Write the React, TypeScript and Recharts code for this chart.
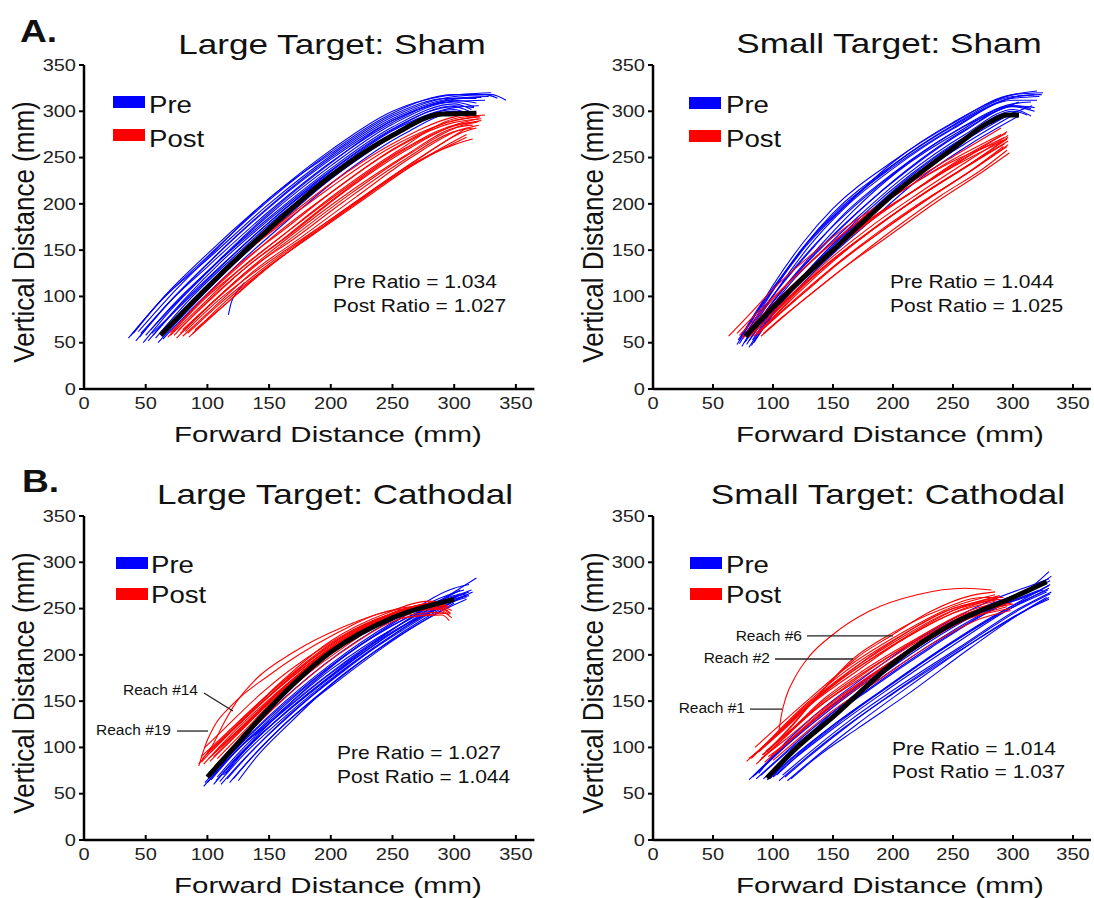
import React from 'react';
import { LineChart, Line, XAxis, YAxis, ReferenceLine } from 'recharts';

type Pt = [number, number];
type Traj = Pt[];

const FONT = '"Liberation Sans", Arial, Helvetica, sans-serif';

const xTicks = [0, 50, 100, 150, 200, 250, 300, 350];
const yTicks = [0, 50, 100, 150, 200, 250, 300, 350];
const panelTitles = ['Large Target: Sham', 'Small Target: Sham', 'Large Target: Cathodal', 'Small Target: Cathodal'];
const panelLetters = ['A.', '', 'B.', ''];
const preRatios = ['1.034', '1.044', '1.027', '1.014'];
const postRatios = ['1.027', '1.025', '1.044', '1.037'];
const legendNames = ['Pre', 'Post'];
const xAxisLabel = 'Forward Distance (mm)';
const yAxisLabel = 'Vertical Distance (mm)';

// ---------- Large Target: Sham ----------
const largeShamPre: Traj[] = [
  [[36, 55], [60, 92], [100, 143], [150, 204], [200, 256], [250, 298], [300, 318], [330, 318], [342, 312]],
  [[38, 58], [62, 95], [100, 140], [150, 200], [200, 252], [250, 294], [300, 316], [325, 318], [335, 314]],
  [[42, 52], [65, 88], [100, 135], [150, 196], [200, 248], [250, 290], [300, 313], [322, 315]],
  [[45, 56], [70, 95], [100, 132], [150, 192], [200, 245], [250, 288], [300, 312], [318, 309]],
  [[48, 50], [70, 85], [100, 126], [150, 188], [200, 241], [250, 286], [300, 310], [316, 305]],
  [[50, 58], [75, 95], [100, 127], [150, 185], [200, 238], [250, 283], [300, 308], [314, 302]],
  [[52, 52], [80, 95], [110, 136], [150, 183], [200, 236], [250, 281], [300, 305], [312, 300]],
  [[55, 60], [80, 92], [110, 131], [150, 180], [200, 233], [250, 279], [300, 304], [320, 306]],
  [[58, 55], [85, 96], [120, 141], [160, 189], [200, 230], [250, 276], [300, 302], [310, 298]],
  [[60, 50], [85, 86], [120, 133], [160, 181], [200, 227], [250, 273], [300, 300], [310, 296]],
  [[64, 54], [90, 90], [125, 135], [165, 182], [210, 232], [260, 276], [300, 298], [305, 296]],
  [[40, 60], [65, 100], [100, 146], [145, 200], [200, 258], [250, 300], [290, 316], [330, 320]],
  [[44, 62], [68, 98], [105, 148], [150, 206], [200, 254], [250, 296], [295, 314], [318, 314]],
  [[54, 64], [78, 98], [110, 140], [150, 190], [200, 244], [250, 290], [300, 311], [325, 312]],
  [[46, 60], [72, 98], [105, 142], [150, 197], [200, 250], [250, 292], [300, 314], [328, 316]],
  [[56, 58], [82, 96], [115, 138], [155, 186], [200, 235], [250, 280], [300, 306], [316, 304]],
  [[62, 60], [88, 95], [120, 137], [160, 185], [205, 232], [255, 276], [300, 300], [312, 299]],
  [[117, 80], [119, 92], [124, 105], [130, 115]],
];
const largeShamPost: Traj[] = [
  [[65, 60], [90, 95], [120, 135], [150, 168], [200, 218], [250, 262], [300, 290], [320, 295]],
  [[68, 56], [95, 95], [125, 132], [160, 172], [200, 212], [250, 258], [300, 288], [322, 292]],
  [[72, 62], [100, 100], [130, 133], [165, 170], [210, 215], [260, 260], [300, 285], [318, 288]],
  [[75, 55], [100, 88], [130, 125], [170, 168], [210, 208], [260, 252], [300, 282], [315, 285]],
  [[78, 60], [105, 95], [135, 130], [170, 162], [210, 202], [260, 248], [300, 278], [315, 282]],
  [[80, 57], [105, 88], [140, 130], [175, 163], [220, 207], [265, 250], [305, 280], [320, 285]],
  [[82, 62], [110, 97], [140, 128], [180, 165], [220, 202], [270, 248], [310, 282]],
  [[85, 56], [110, 86], [140, 122], [180, 162], [220, 200], [260, 238], [300, 264], [315, 270]],
  [[88, 60], [115, 95], [145, 128], [185, 166], [230, 208], [270, 245], [310, 275]],
  [[70, 58], [95, 90], [125, 128], [160, 165], [205, 212], [255, 258], [300, 292], [325, 296]],
  [[90, 64], [115, 92], [150, 132], [190, 172], [235, 215], [280, 252], [310, 272]],
  [[73, 58], [98, 92], [130, 130], [165, 166], [205, 208], [255, 255], [300, 284], [322, 290]],
  [[66, 63], [92, 100], [122, 140], [155, 175], [200, 222], [250, 265], [300, 294], [318, 298]],
  [[80, 64], [108, 98], [138, 132], [175, 170], [215, 210], [265, 255], [305, 284], [320, 289]],
  [[76, 63], [102, 96], [132, 132], [168, 168], [210, 212], [260, 257], [302, 286], [320, 292]],
  [[84, 60], [110, 92], [142, 127], [180, 164], [222, 204], [268, 246], [308, 278], [318, 282]],
  [[70, 61], [96, 97], [126, 135], [162, 172], [204, 216], [254, 262], [300, 290], [321, 294]],
];
const largeShamMean: Traj = [[62, 58], [100, 110], [150, 173], [200, 230], [250, 274], [290, 297], [318, 298]];

// ---------- Small Target: Sham ----------
const smallShamPre: Traj[] = [
  [[70, 48], [85, 80], [100, 112], [125, 158], [150, 195], [200, 246], [250, 287], [300, 318], [325, 320]],
  [[72, 52], [88, 85], [100, 108], [125, 153], [150, 190], [200, 242], [250, 284], [300, 315], [318, 318]],
  [[74, 46], [90, 80], [105, 110], [130, 154], [160, 196], [200, 238], [250, 281], [300, 312], [320, 312]],
  [[75, 55], [90, 84], [110, 117], [135, 155], [160, 190], [200, 233], [250, 277], [300, 308], [315, 310]],
  [[76, 50], [92, 80], [110, 110], [140, 152], [170, 190], [210, 235], [260, 280], [300, 305], [318, 300]],
  [[78, 48], [95, 82], [115, 115], [140, 148], [170, 185], [210, 230], [260, 275], [300, 302], [315, 295]],
  [[80, 52], [95, 78], [115, 108], [145, 150], [175, 185], [210, 225], [260, 272], [300, 300], [312, 296]],
  [[82, 47], [98, 78], [120, 112], [150, 152], [180, 185], [220, 230], [260, 265], [300, 296]],
  [[84, 50], [100, 80], [120, 108], [150, 146], [180, 180], [220, 225], [265, 265], [305, 295]],
  [[73, 56], [88, 88], [105, 118], [130, 160], [160, 198], [200, 245], [250, 288], [300, 318], [320, 322]],
  [[78, 58], [92, 86], [110, 118], [140, 163], [170, 200], [210, 242], [260, 284], [305, 310]],
  [[80, 45], [96, 76], [118, 110], [145, 150], [175, 188], [215, 232], [262, 274], [300, 298], [316, 306]],
  [[71, 53], [86, 82], [104, 114], [130, 160], [155, 194], [200, 240], [250, 282], [300, 314], [322, 316]],
  [[77, 51], [93, 82], [112, 114], [138, 153], [165, 190], [205, 236], [255, 278], [300, 306], [315, 303]],
  [[72, 49], [87, 80], [103, 112], [128, 155], [158, 195], [200, 242], [250, 285], [300, 316], [324, 318]],
  [[79, 55], [94, 84], [114, 116], [142, 156], [172, 193], [212, 236], [260, 279], [302, 306], [318, 304]],
  [[83, 53], [98, 82], [118, 112], [148, 152], [178, 188], [218, 230], [262, 270], [302, 300]],
];
const smallShamPost: Traj[] = [
  [[63, 57], [80, 80], [100, 108], [130, 143], [160, 174], [200, 208], [250, 248], [290, 275]],
  [[70, 60], [85, 80], [105, 105], [135, 142], [170, 180], [210, 216], [250, 246], [295, 270]],
  [[75, 55], [90, 75], [110, 102], [140, 137], [170, 170], [210, 208], [250, 240], [292, 268]],
  [[78, 62], [92, 80], [112, 106], [145, 145], [180, 182], [220, 216], [260, 249], [295, 278]],
  [[80, 56], [95, 75], [115, 100], [145, 135], [180, 170], [220, 206], [260, 239], [293, 265]],
  [[82, 60], [98, 78], [120, 106], [150, 140], [185, 174], [225, 211], [265, 244], [295, 270]],
  [[85, 58], [100, 75], [120, 99], [150, 132], [185, 167], [225, 203], [265, 236], [292, 262]],
  [[88, 62], [102, 78], [125, 103], [155, 136], [190, 170], [230, 206], [270, 240], [295, 262]],
  [[90, 57], [105, 74], [128, 99], [158, 130], [195, 164], [235, 201], [275, 235], [297, 255]],
  [[92, 60], [108, 78], [130, 101], [160, 132], [200, 172], [240, 209], [275, 238], [295, 258]],
  [[72, 58], [88, 80], [108, 108], [140, 147], [175, 185], [215, 223], [255, 255], [290, 282]],
  [[86, 60], [100, 77], [122, 105], [152, 140], [188, 177], [228, 213], [268, 246], [296, 272]],
  [[76, 59], [91, 79], [111, 105], [142, 142], [177, 180], [218, 215], [258, 250], [294, 276]],
  [[84, 57], [99, 76], [118, 102], [148, 137], [183, 172], [223, 209], [263, 242], [296, 268]],
  [[74, 56], [89, 77], [109, 103], [140, 140], [175, 176], [215, 212], [255, 246], [293, 272]],
  [[80, 60], [96, 79], [117, 104], [147, 140], [182, 176], [222, 212], [262, 246], [296, 274]],
  [[87, 59], [102, 77], [124, 102], [154, 136], [190, 170], [230, 206], [270, 240], [296, 264]],
];
const smallShamMean: Traj = [[77, 57], [100, 88], [125, 120], [150, 150], [200, 210], [250, 260], [280, 288], [295, 296], [305, 296]];

// ---------- Large Target: Cathodal ----------
const largeCathPre: Traj[] = [
  [[97, 58], [115, 85], [150, 130], [200, 188], [250, 232], [300, 262], [310, 266]],
  [[100, 62], [120, 92], [150, 128], [200, 184], [250, 228], [300, 260], [312, 264]],
  [[103, 65], [125, 98], [150, 126], [200, 180], [250, 225], [300, 258], [315, 268]],
  [[105, 60], [125, 90], [155, 128], [205, 182], [255, 228], [300, 260], [310, 265]],
  [[108, 68], [128, 98], [155, 132], [205, 186], [255, 232], [300, 268], [318, 283]],
  [[110, 63], [130, 93], [160, 130], [210, 184], [260, 230], [305, 265]],
  [[113, 70], [133, 100], [160, 134], [210, 188], [260, 236], [305, 270]],
  [[118, 62], [135, 88], [160, 122], [210, 176], [260, 224], [300, 256]],
  [[121, 66], [138, 92], [165, 128], [210, 178], [260, 226], [305, 262]],
  [[125, 64], [140, 90], [165, 124], [200, 168], [250, 216], [300, 254], [310, 260]],
  [[100, 70], [118, 96], [145, 132], [195, 190], [245, 234], [295, 262], [305, 266]],
  [[115, 72], [132, 100], [158, 136], [205, 192], [255, 238], [300, 272], [312, 276]],
  [[102, 68], [122, 97], [150, 134], [200, 190], [250, 235], [298, 266], [308, 270]],
  [[111, 60], [130, 88], [158, 124], [205, 178], [255, 224], [300, 258], [310, 262]],
  [[98, 62], [117, 90], [148, 130], [198, 186], [248, 230], [298, 262], [312, 268]],
  [[107, 64], [127, 94], [157, 130], [207, 183], [257, 230], [302, 264], [314, 270]],
  [[116, 66], [134, 93], [162, 130], [210, 182], [260, 230], [303, 264]],
];
const largeCathPost: Traj[] = [
  [[93, 82], [104, 102], [114, 128], [124, 150], [138, 172], [170, 203], [210, 230], [255, 250], [290, 255]],
  [[93, 80], [100, 108], [106, 124], [120, 146], [150, 178], [200, 220], [250, 248], [292, 252]],
  [[95, 90], [115, 115], [150, 158], [200, 212], [250, 245], [285, 255], [295, 250]],
  [[97, 82], [120, 115], [150, 152], [200, 205], [250, 242], [290, 250], [297, 245]],
  [[100, 95], [120, 118], [150, 155], [200, 208], [250, 245], [285, 258]],
  [[102, 85], [125, 115], [150, 148], [200, 202], [250, 240], [290, 246], [298, 240]],
  [[104, 92], [125, 118], [155, 156], [200, 206], [250, 244], [280, 256], [292, 258]],
  [[106, 80], [130, 115], [160, 155], [205, 203], [255, 240], [290, 243], [296, 237]],
  [[108, 88], [130, 118], [160, 160], [205, 210], [255, 248], [285, 256]],
  [[110, 84], [135, 118], [165, 156], [210, 204], [260, 240], [295, 245]],
  [[98, 100], [115, 122], [145, 160], [190, 205], [240, 240], [280, 252], [295, 248]],
  [[103, 95], [125, 125], [155, 165], [200, 215], [245, 245], [280, 258], [293, 255]],
  [[96, 88], [118, 118], [148, 156], [195, 205], [245, 242], [285, 254], [296, 252]],
  [[105, 90], [128, 120], [158, 160], [203, 208], [252, 244], [288, 252], [298, 248]],
  [[99, 92], [121, 120], [152, 158], [198, 209], [248, 244], [284, 256], [296, 252]],
  [[101, 88], [124, 116], [153, 153], [200, 205], [250, 242], [288, 250], [297, 244]],
  [[107, 96], [129, 124], [160, 163], [205, 212], [252, 246], [284, 257]],
  [[95, 84], [117, 114], [147, 152], [196, 203], [246, 240], [287, 249], [296, 243]],
];
const largeCathMean: Traj = [[100, 68], [125, 105], [150, 142], [200, 203], [250, 240], [300, 260]];

// ---------- Small Target: Cathodal ----------
const smallCathPre: Traj[] = [
  [[80, 65], [100, 90], [130, 125], [170, 165], [220, 210], [270, 248], [310, 268], [330, 290]],
  [[83, 68], [105, 95], [135, 128], [175, 168], [225, 212], [275, 250], [315, 270], [332, 285]],
  [[86, 66], [108, 92], [140, 128], [180, 166], [230, 210], [280, 248], [320, 268], [330, 275]],
  [[90, 70], [110, 93], [145, 130], [185, 168], [235, 212], [285, 250], [325, 270]],
  [[95, 65], [115, 88], [150, 124], [190, 160], [240, 205], [290, 245], [328, 268]],
  [[100, 68], [120, 90], [155, 125], [195, 162], [245, 206], [295, 248], [330, 272]],
  [[105, 64], [125, 86], [160, 122], [200, 158], [250, 200], [300, 240], [330, 262]],
  [[108, 70], [128, 92], [165, 130], [205, 166], [255, 208], [305, 250], [332, 268]],
  [[112, 64], [132, 86], [170, 125], [210, 163], [260, 208], [310, 248], [330, 260]],
  [[115, 66], [135, 88], [170, 120], [215, 160], [265, 208], [310, 248], [328, 262]],
  [[88, 72], [105, 98], [135, 135], [175, 175], [225, 220], [275, 255], [315, 275], [330, 282]],
  [[98, 72], [118, 98], [150, 138], [190, 178], [240, 222], [290, 258], [325, 278]],
  [[92, 66], [112, 90], [142, 126], [182, 164], [232, 208], [282, 248], [322, 270]],
  [[103, 70], [123, 94], [158, 130], [198, 168], [248, 212], [298, 252], [331, 276]],
  [[85, 70], [106, 96], [136, 132], [176, 172], [226, 216], [276, 252], [318, 272], [331, 280]],
  [[97, 66], [117, 89], [152, 126], [192, 163], [242, 208], [292, 248], [329, 270]],
  [[110, 68], [130, 90], [167, 128], [207, 165], [257, 208], [307, 250], [331, 266]],
];
const smallCathPost: Traj[] = [
  [[105, 118], [107, 135], [111, 155], [118, 175], [130, 198], [150, 222], [180, 247], [220, 265], [260, 272], [282, 270]],
  [[95, 95], [115, 122], [140, 160], [168, 195], [200, 222], [230, 246], [265, 264], [285, 268]],
  [[92, 92], [110, 116], [135, 152], [166, 195], [200, 224], [240, 249], [275, 262], [292, 262]],
  [[78, 85], [95, 105], [120, 135], [150, 168], [200, 215], [250, 250], [290, 260]],
  [[83, 90], [100, 110], [125, 140], [155, 172], [200, 210], [250, 245], [285, 258]],
  [[86, 82], [105, 105], [130, 135], [160, 165], [205, 205], [255, 242], [290, 255]],
  [[88, 95], [108, 118], [135, 150], [165, 178], [210, 218], [255, 248], [288, 262]],
  [[90, 88], [110, 108], [140, 140], [170, 168], [215, 205], [260, 238], [295, 252]],
  [[93, 84], [115, 108], [145, 140], [175, 168], [220, 208], [265, 240], [298, 250]],
  [[96, 90], [118, 112], [148, 145], [180, 175], [225, 212], [270, 245], [300, 255]],
  [[100, 86], [120, 108], [150, 140], [185, 170], [230, 210], [275, 240], [298, 248]],
  [[85, 100], [102, 120], [128, 150], [160, 185], [205, 222], [250, 252], [285, 265]],
  [[82, 88], [100, 112], [126, 145], [158, 180], [203, 218], [250, 250], [288, 262]],
  [[91, 92], [112, 115], [140, 148], [172, 178], [218, 214], [262, 244], [296, 256]],
  [[80, 88], [98, 108], [123, 140], [153, 172], [200, 213], [250, 248], [288, 260]],
  [[87, 95], [106, 117], [132, 148], [164, 180], [209, 218], [254, 250], [289, 264]],
  [[94, 96], [114, 118], [142, 152], [174, 182], [220, 218], [264, 248], [297, 258]],
  [[98, 90], [119, 114], [147, 146], [179, 176], [224, 214], [268, 246], [299, 256]],
  [[89, 86], [109, 110], [138, 144], [170, 172], [215, 210], [260, 242], [294, 254]],
];
const smallCathMean: Traj = [[95, 67], [120, 100], [150, 133], [200, 191], [250, 234], [300, 262], [328, 279]];

// Annotation pointer segments (data coordinates) and their labels
const largeCathNotes: { label: string; seg: Pt[] }[] = [
  { label: 'Reach #14', seg: [[97.2, 158.8], [120.7, 139.4]] },
  { label: 'Reach #19', seg: [[75.4, 117.7], [100.5, 117.7]] },
];
const smallCathNotes: { label: string; seg: Pt[] }[] = [
  { label: 'Reach #6', seg: [[128.3, 220.4], [200, 220.4]] },
  { label: 'Reach #2', seg: [[101.7, 195.5], [166.7, 195.5]] },
  { label: 'Reach #1', seg: [[80.8, 141.4], [107.5, 141.4]] },
];

const seriesSets = [
  { pre: largeShamPre, post: largeShamPost, mean: largeShamMean, notes: [] as { label: string; seg: Pt[] }[] },
  { pre: smallShamPre, post: smallShamPost, mean: smallShamMean, notes: [] as { label: string; seg: Pt[] }[] },
  { pre: largeCathPre, post: largeCathPost, mean: largeCathMean, notes: largeCathNotes },
  { pre: smallCathPre, post: smallCathPost, mean: smallCathMean, notes: smallCathNotes },
];

// ---------- layout (pixels) ----------
const layouts = [
  {
    box: { left: 0, top: 0, width: 545, height: 450, margin: { top: 65, right: 10.6, bottom: 31, left: 20 } },
    letter: { x: 20, y: 42 }, title: { x: 332, y: 54 }, xLabel: { x: 328, y: 442 }, yLabel: { x: 34, y: 232 },
    legend: { x: 113, y1: 96, y2: 129, tx: 149, ty1: 113, ty2: 147 }, ratio: { x: 333, y1: 288, y2: 312 },
    notePos: [] as { x: number; y: number }[],
  },
  {
    box: { left: 560, top: 0, width: 540, height: 450, margin: { top: 65, right: 9, bottom: 31, left: 29 } },
    letter: { x: 0, y: 0 }, title: { x: 889, y: 53 }, xLabel: { x: 890, y: 442 }, yLabel: { x: 603, y: 232 },
    legend: { x: 689, y1: 97, y2: 130, tx: 726, ty1: 113, ty2: 147 }, ratio: { x: 890, y1: 288, y2: 312 },
    notePos: [] as { x: number; y: number }[],
  },
  {
    box: { left: 0, top: 450, width: 545, height: 450, margin: { top: 66, right: 10.6, bottom: 30, left: 20 } },
    letter: { x: 22, y: 492 }, title: { x: 335, y: 504 }, xLabel: { x: 328, y: 893 }, yLabel: { x: 34, y: 683 },
    legend: { x: 116, y1: 557, y2: 588, tx: 151, ty1: 573, ty2: 603 }, ratio: { x: 337, y1: 759, y2: 783 },
    notePos: [{ x: 198, y: 695 }, { x: 171, y: 735 }],
  },
  {
    box: { left: 560, top: 450, width: 540, height: 450, margin: { top: 66, right: 9, bottom: 30, left: 29 } },
    letter: { x: 0, y: 0 }, title: { x: 888, y: 504 }, xLabel: { x: 890, y: 893 }, yLabel: { x: 603, y: 683 },
    legend: { x: 690, y1: 557, y2: 588, tx: 726, ty1: 573, ty2: 603 }, ratio: { x: 892, y1: 755, y2: 778 },
    notePos: [{ x: 802, y: 641 }, { x: 770, y: 663 }, { x: 745, y: 713 }],
  },
];

const BLUE = '#0000ff';
const RED = '#ff0000';

const toRows = (t: Traj) => t.map(([x, y]) => ({ x, y }));

const XTick = (props: any) => {
  const { x, y, payload } = props;
  return (
    <text transform={`translate(${x},${y}) scale(1.25,1)`} textAnchor="middle" dy="0.71em" fontSize={16} fill="#222" fontFamily={FONT}>
      {payload.value}
    </text>
  );
};
const YTick = (props: any) => {
  const { x, y, payload } = props;
  return (
    <text transform={`translate(${x},${y}) scale(1.25,1)`} textAnchor="end" dy="0.355em" fontSize={16} fill="#222" fontFamily={FONT}>
      {payload.value}
    </text>
  );
};

function Panel({ idx }: { idx: number }) {
  const L = layouts[idx];
  const S = seriesSets[idx];
  return (
    <div style={{ position: 'absolute', left: L.box.left, top: L.box.top }}>
      <LineChart width={L.box.width} height={L.box.height} margin={L.box.margin}>
        <XAxis
          type="number"
          dataKey="x"
          domain={[0, 365]}
          ticks={xTicks}
          interval={0}
          height={30}
          tickSize={-5}
          tickMargin={14}
          tick={(p: any) => <XTick {...p} />}
          axisLine={{ stroke: '#000', strokeWidth: 2.5 }}
          tickLine={{ stroke: '#000', strokeWidth: 2 }}
        />
        <YAxis
          type="number"
          dataKey="y"
          domain={[0, 350]}
          ticks={yTicks}
          interval={0}
          width={64}
          tickSize={5}
          tickMargin={3}
          tick={(p: any) => <YTick {...p} />}
          axisLine={{ stroke: '#000', strokeWidth: 2.5 }}
          tickLine={{ stroke: '#000', strokeWidth: 2 }}
        />
        {S.pre.map((t, i) => (
          <Line key={`pre${i}`} data={toRows(t)} dataKey="y" type="monotone" stroke={BLUE} strokeWidth={1.1} dot={false} activeDot={false} isAnimationActive={false} />
        ))}
        {S.post.map((t, i) => (
          <Line key={`post${i}`} data={toRows(t)} dataKey="y" type="monotone" stroke={RED} strokeWidth={1.1} dot={false} activeDot={false} isAnimationActive={false} />
        ))}
        <Line data={toRows(S.mean)} dataKey="y" type="monotone" stroke="#000" strokeWidth={5} dot={false} activeDot={false} isAnimationActive={false} />
        {S.notes.map((n, i) => (
          <ReferenceLine
            key={`note${i}`}
            segment={[{ x: n.seg[0][0], y: n.seg[0][1] }, { x: n.seg[1][0], y: n.seg[1][1] }]}
            stroke="#222"
            strokeWidth={1.3}
            ifOverflow="visible"
          />
        ))}
      </LineChart>
    </div>
  );
}

function T({ x, y, size, sx = 1, anchor = 'start', weight = 400, children }: any) {
  return (
    <text transform={`translate(${x},${y}) scale(${sx},1)`} fontSize={size} textAnchor={anchor} fontWeight={weight} fill="#111" fontFamily={FONT}>
      {children}
    </text>
  );
}

function Overlay() {
  return (
    <svg width={1094} height={898} style={{ position: 'absolute', left: 0, top: 0, pointerEvents: 'none' }}>
      {layouts.map((L, i) => (
        <g key={i}>
          {panelLetters[i] && <T x={L.letter.x} y={L.letter.y} size={31} sx={1.2} weight={700}>{panelLetters[i]}</T>}
          <T x={L.title.x} y={L.title.y} size={27} sx={1.3} anchor="middle">{panelTitles[i]}</T>
          <T x={L.xLabel.x} y={L.xLabel.y} size={22} sx={1.34} anchor="middle">{xAxisLabel}</T>
          <text transform={`translate(${L.yLabel.x},${L.yLabel.y}) rotate(-90) scale(1,1.17)`} fontSize={26} textAnchor="middle" fill="#111" fontFamily={FONT}>
            {yAxisLabel}
          </text>
          <rect x={L.legend.x} y={L.legend.y1} width={32} height={12} fill={BLUE} />
          <rect x={L.legend.x} y={L.legend.y2} width={32} height={12} fill={RED} />
          <T x={L.legend.tx} y={L.legend.ty1} size={24} sx={1.15}>{legendNames[0]}</T>
          <T x={L.legend.tx} y={L.legend.ty2} size={24} sx={1.15}>{legendNames[1]}</T>
          <T x={L.ratio.x} y={L.ratio.y1} size={17.5} sx={1.2}>{`Pre Ratio = ${preRatios[i]}`}</T>
          <T x={L.ratio.x} y={L.ratio.y2} size={17.5} sx={1.2}>{`Post Ratio = ${postRatios[i]}`}</T>
          {L.notePos.map((p, j) => (
            <T key={j} x={p.x} y={p.y} size={15.5} anchor="end">{seriesSets[i].notes[j].label}</T>
          ))}
        </g>
      ))}
    </svg>
  );
}

export default function App() {
  return (
    <div style={{ position: 'absolute', left: 0, top: 0, width: 1094, height: 898, overflow: 'hidden', background: '#fff', fontFamily: FONT }}>
      {[0, 1, 2, 3].map((i) => (
        <Panel key={i} idx={i} />
      ))}
      <Overlay />
    </div>
  );
}
